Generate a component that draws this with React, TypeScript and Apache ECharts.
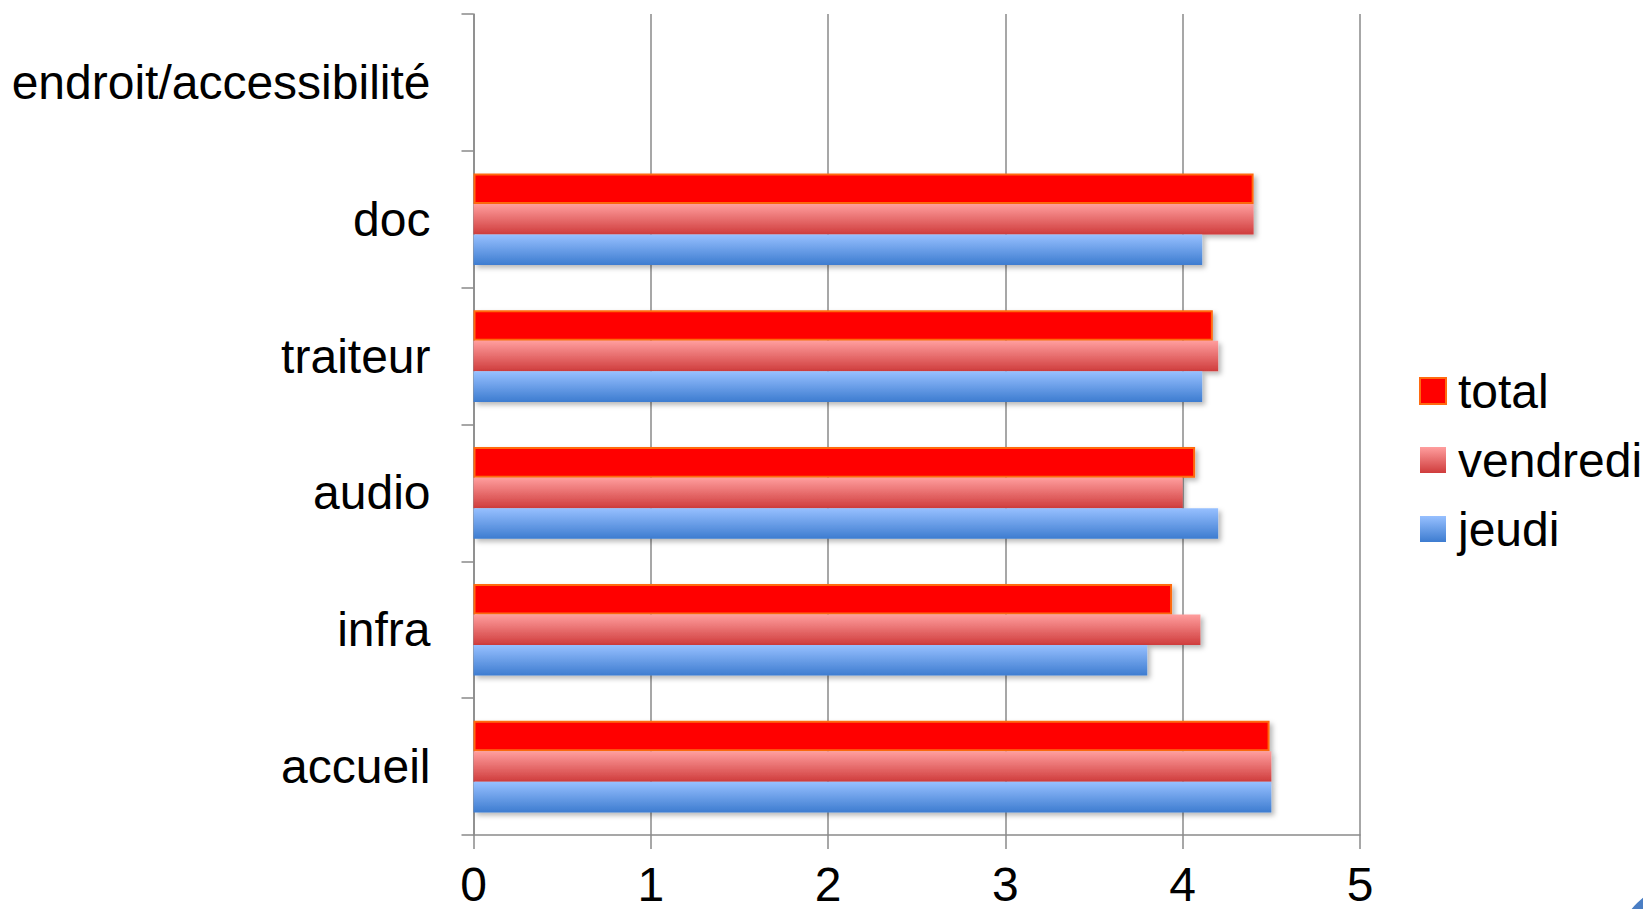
import React, { useEffect, useRef } from "react";
import * as echarts from "echarts";

const categories = ["accueil", "infra", "audio", "traiteur", "doc", "endroit/accessibilité"];
const jeudi = [4.5, 3.8, 4.2, 4.11, 4.11, null];
const vendredi = [4.5, 4.1, 4.0, 4.2, 4.4, null];
const total = [4.49, 3.94, 4.07, 4.17, 4.4, null];
const legendOrder = ["total", "vendredi", "jeudi"];
const xTicks = { min: 0, max: 5, interval: 1 };

const FONT = "'Liberation Sans', Arial, sans-serif";

export default function App() {
  const ref = useRef<HTMLDivElement>(null);
  useEffect(() => {
    if (!ref.current) return;
    const chart = echarts.init(ref.current, undefined, { renderer: "svg" });
    const shadow = {
      shadowBlur: 5,
      shadowOffsetX: 3,
      shadowOffsetY: 3,
      shadowColor: "rgba(0,0,0,0.28)",
    };
    chart.setOption({
      animation: false,
      backgroundColor: "#ffffff",
      textStyle: { fontFamily: FONT },
      grid: { left: 473.5, right: 283, top: 14, bottom: 74, containLabel: false },
      legend: {
        data: legendOrder,
        orient: "vertical",
        left: 1414,
        top: 362,
        icon: "rect",
        itemWidth: 26,
        itemHeight: 26,
        itemGap: 21,
        textStyle: { fontSize: 48, color: "#000", fontFamily: FONT, padding: [0, 0, 0, 7] },
        itemStyle: { shadowBlur: 0, shadowOffsetX: 0, shadowOffsetY: 0 },
      },
      xAxis: {
        type: "value",
        min: xTicks.min,
        max: xTicks.max,
        interval: xTicks.interval,
        axisLine: { show: true, lineStyle: { color: "#8a8a8a", width: 1.5 } },
        axisTick: { show: true, length: 14, lineStyle: { color: "#8a8a8a", width: 1.5 } },
        splitLine: { show: true, lineStyle: { color: "#8a8a8a", width: 1.5 } },
        axisLabel: { fontSize: 48, lineHeight: 36, color: "#000", margin: 31, fontFamily: FONT },
      },
      yAxis: {
        type: "category",
        data: categories,
        axisLine: { show: true, lineStyle: { color: "#8a8a8a", width: 1.5 } },
        axisTick: { show: true, length: 12, alignWithLabel: false, lineStyle: { color: "#8a8a8a", width: 1.5 } },
        splitLine: { show: false },
        axisLabel: { fontSize: 48, color: "#000", margin: 43, fontFamily: FONT },
      },
      series: [
        {
          name: "total",
          type: "bar",
          data: total,
          barGap: "0%",
          barCategoryGap: "33%",
          itemStyle: {
            color: "#ff0000",
            borderColor: "#ff6a10",
            borderWidth: 2,
            ...shadow,
          },
        },
        {
          name: "vendredi",
          type: "bar",
          data: vendredi,
          barGap: "0%",
          barCategoryGap: "33%",
          itemStyle: {
            color: new echarts.graphic.LinearGradient(0, 0, 0, 1, [
              { offset: 0, color: "#ff9e9e" },
              { offset: 1, color: "#cf3c3c" },
            ]),
            ...shadow,
          },
        },
        {
          name: "jeudi",
          type: "bar",
          data: jeudi,
          barGap: "0%",
          barCategoryGap: "33%",
          itemStyle: {
            color: new echarts.graphic.LinearGradient(0, 0, 0, 1, [
              { offset: 0, color: "#97c0ff" },
              { offset: 1, color: "#3d7cd0" },
            ]),
            ...shadow,
          },
        },
      ],
      graphic: [
        {
          type: "circle",
          shape: { cx: 1700, cy: 966, r: 89 },
          style: { fill: "#4a7ec4" },
          silent: true,
        },
      ],
    });
    return () => chart.dispose();
  }, []);
  return (
    <div
      ref={ref}
      style={{ position: "fixed", left: 0, top: 0, width: 1643, height: 909 }}
    />
  );
}
